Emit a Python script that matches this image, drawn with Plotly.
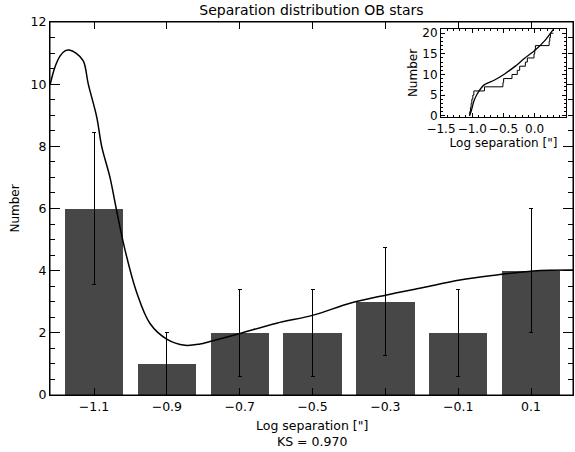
import plotly.graph_objects as go

# ---------------- data ----------------
bin_centers = [-1.1, -0.9, -0.7, -0.5, -0.3, -0.1, 0.1]
bin_labels = ["\u22121.1", "\u22120.9", "\u22120.7", "\u22120.5", "\u22120.3", "\u22120.1", "0.1"]
counts = [6, 1, 2, 2, 3, 2, 4]
count_err = [2.45, 1.0, 1.41, 1.41, 1.73, 1.41, 2.0]

curve_x = [-1.2208, -1.2071, -1.1934, -1.1796, -1.1678, -1.1494, -1.1294, -1.1157,
           -1.0926, -1.0789, -1.0561, -1.0390, -1.0149, -0.9828, -0.9462, -0.9004,
           -0.8501, -0.8090, -0.7815, -0.6991, -0.5984, -0.4978, -0.3971, -0.2963,
           -0.1958, -0.0951, 0.0057, 0.1062, 0.2152]
curve_y = [9.97, 10.55, 10.9, 11.07, 11.1, 11.0, 10.75, 10.0,
           8.95, 8.0, 7.0, 6.0, 4.67, 3.3, 2.3, 1.8,
           1.6, 1.64, 1.72, 1.98, 2.31, 2.57, 2.95, 3.22,
           3.46, 3.70, 3.86, 3.99, 4.02]

# inset: cumulative distribution
cum_sep = [-1.044, -1.039, -1.028, -1.017, -1.006, -0.990, -0.974, -0.803, -0.508, -0.497,
           -0.363, -0.278, -0.240, -0.149, -0.117, -0.010, 0.001, 0.012, 0.232, 0.242, 0.253, 0.30]
cum_num = [0, 1, 2, 3, 4, 5, 6, 7, 8, 9,
           10, 11, 12, 13, 14, 15, 16, 17, 18, 19, 20, 20]
cfit_x = [-1.044, -1.017, -0.974, -0.921, -0.856, -0.803, -0.642, -0.481, -0.320,
          -0.160, 0.001, 0.162, 0.296]
cfit_y = [0.0, 1.05, 3.48, 5.26, 6.72, 7.53, 8.66, 10.12, 11.9,
          13.93, 15.79, 18.2, 20.9]

FONT = "DejaVu Sans"
BLACK = "#000000"

fig = go.Figure()

fig.add_trace(go.Bar(
    x=bin_centers, y=counts, width=0.16,
    marker=dict(color="#474747", line=dict(width=0)),
    error_y=dict(type="data", array=count_err, color=BLACK, thickness=1, width=2),
    xaxis="x", yaxis="y", showlegend=False))

fig.add_trace(go.Scatter(
    x=curve_x, y=curve_y, mode="lines",
    line=dict(color=BLACK, width=1.5, shape="spline", smoothing=1.0),
    xaxis="x", yaxis="y", showlegend=False, cliponaxis=True))

# inset traces
fig.add_trace(go.Scatter(
    x=cum_sep, y=cum_num, mode="lines",
    line=dict(color=BLACK, width=1, shape="hv"),
    xaxis="x4", yaxis="y4", showlegend=False))
fig.add_trace(go.Scatter(
    x=cfit_x, y=cfit_y, mode="lines",
    line=dict(color=BLACK, width=1.3, shape="spline", smoothing=0.6),
    xaxis="x4", yaxis="y4", showlegend=False))

tickfont = dict(family=FONT, size=12.5, color=BLACK)
insetfont = dict(family=FONT, size=12, color=BLACK)

fig.update_layout(
    width=575, height=452,
    margin=dict(l=50, r=2, t=22, b=57),
    paper_bgcolor="white", plot_bgcolor="white",
    bargap=0,
    title=dict(text="Separation distribution OB stars", x=0.5417, xanchor="center",
               y=1 - 10 / 452, yanchor="middle", yref="container",
               font=dict(family=FONT, size=14, color=BLACK)),
    xaxis=dict(range=[-1.2208, 0.2152], tickvals=bin_centers, ticktext=bin_labels,
               ticks="inside", ticklen=7, tickcolor=BLACK, tickwidth=1,
               showline=True, linecolor=BLACK, linewidth=1, mirror="ticks",
               showgrid=False, zeroline=False, layer="above traces",
               tickfont=tickfont, domain=[0, 1], anchor="y"),
    yaxis=dict(range=[0, 12], tickmode="linear", tick0=0, dtick=2,
               ticks="inside", ticklen=10, tickcolor=BLACK,
               minor=dict(tickmode="linear", tick0=0, dtick=0.5, ticks="inside", ticklen=5, tickcolor=BLACK),
               showline=True, linecolor=BLACK, linewidth=1, mirror="ticks",
               showgrid=False, zeroline=False, tickfont=tickfont, anchor="x",
               title=dict(text="Number", font=dict(family=FONT, size=12, color=BLACK), standoff=8),
               domain=[0, 1]),
    xaxis4=dict(domain=[0.7476, 0.9866], anchor="y4", range=[-1.5, 0.502],
                tickmode="linear", tick0=-1.5, dtick=0.5, tickformat=".1f",
                ticks="inside", ticklen=4, tickcolor=BLACK,
                minor=dict(tickmode="linear", tick0=-1.5, dtick=0.1, ticks="inside", ticklen=2, tickcolor=BLACK),
                showline=True, linecolor=BLACK, linewidth=1, mirror="ticks",
                showgrid=False, zeroline=False, tickfont=insetfont,
                title=dict(text="Log separation [\"]", font=dict(family=FONT, size=12, color=BLACK), standoff=1)),
    yaxis4=dict(domain=[0.7445, 0.982], anchor="x4", range=[-0.4, 21.1],
                tickmode="linear", tick0=0, dtick=5,
                ticks="inside", ticklen=4, tickcolor=BLACK,
                minor=dict(tickmode="linear", tick0=0, dtick=1, ticks="inside", ticklen=2, tickcolor=BLACK),
                showline=True, linecolor=BLACK, linewidth=1, mirror="ticks",
                showgrid=False, zeroline=False, tickfont=insetfont,
                title=dict(text="Number", font=dict(family=FONT, size=12, color=BLACK), standoff=2)),
    shapes=[
        # plot frame (axis box)
        dict(type="rect", xref="paper", yref="paper", x0=0, x1=1, y0=0, y1=1,
             line=dict(color=BLACK, width=1), fillcolor="rgba(0,0,0,0)", layer="above"),
    ],
    annotations=[
        dict(text="Log separation [\"]", x=0.5, y=-(425 - 395) / 373, xref="paper", yref="paper",
             xanchor="center", yanchor="middle", showarrow=False,
             font=dict(family=FONT, size=12.5, color=BLACK)),
        dict(text="KS = 0.970", x=0.5, y=-(441 - 395) / 373, xref="paper", yref="paper",
             xanchor="center", yanchor="middle", showarrow=False,
             font=dict(family=FONT, size=12.5, color=BLACK)),
    ],
)

fig.write_html("out.html")
